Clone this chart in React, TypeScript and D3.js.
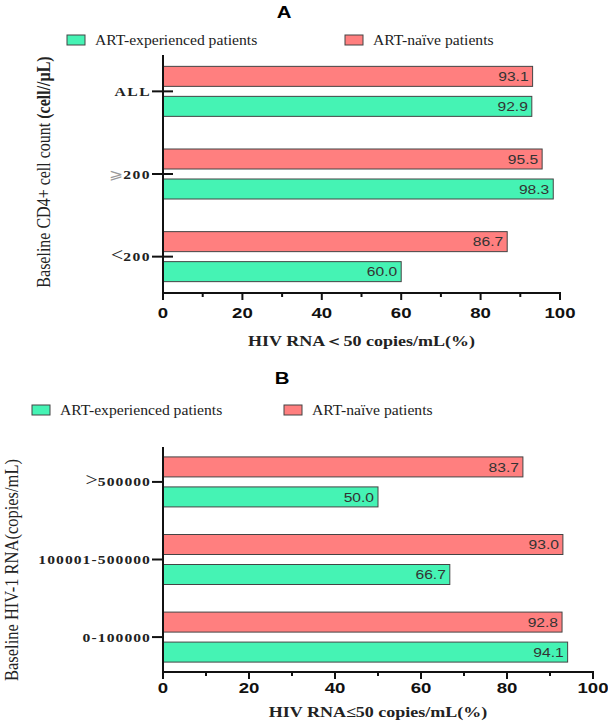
import React from 'react';
import * as d3 from 'd3';

// the exported figure is a bit wider than tall, so text gets a horizontal stretch
const SX = 1.2;

const seriesNames = ['ART-experienced patients', 'ART-naïve patients'];
const seriesColors = ['#45f3b4', '#ff7f7f'];

const cd4Groups = ['ALL', '⩾200', '<200'];
const cd4Naive = [93.1, 95.5, 86.7];
const cd4Experienced = [92.9, 98.3, 60.0];

const rnaGroups = ['>500000', '100001-500000', '0-100000'];
const rnaNaive = [83.7, 93.0, 92.8];
const rnaExperienced = [50.0, 66.7, 94.1];

const xTicks = [0, 20, 40, 60, 80, 100];
const xMinorTicks = [10, 30, 50, 70, 90];

const SERIF = '"Liberation Serif", "Times New Roman", serif';
const SANS = '"Liberation Sans", Arial, sans-serif';

type STextProps = React.SVGProps<SVGTextElement> & {
  x: number;
  y: number;
  rotate?: number;
  sx?: number;
};

const SText = ({ x, y, rotate, sx = SX, children, ...rest }: STextProps) => (
  <text
    transform={`translate(${x},${y}) scale(${sx},1)${rotate ? ` rotate(${rotate})` : ''}`}
    {...rest}
  >
    {children}
  </text>
);

// category label: a leading comparison sign is drawn larger and thinner
const CategoryLabel = ({ label }: { label: string }) => {
  const m = label.match(/^[<>⩾]/);
  if (!m) return <>{label}</>;
  const sign = m[0];
  return (
    <>
      <tspan
        fontWeight="normal"
        fontSize={sign === '⩾' ? 14 : 18}
        fill={sign === '⩾' ? '#999' : '#222'}
        letterSpacing={0}
      >
        {sign}
      </tspan>
      {label.slice(1)}
    </>
  );
};

type PanelProps = {
  title: string;
  groups: string[];
  naive: number[];
  experienced: number[];
  yTitle: React.ReactNode;
  xTitle: string;
  top: number;
  bottom: number;
  right: number;
  padding: number;
  titleX: number;
  titleY: number;
  legendY: number;
  legendX: [number, number];
  yTitleX: number;
  yTitleY: number;
  yTitleSize: number;
  crossTicks: boolean;
  labelSpacing: number;
  tickLabelDy: number;
  xTitleY: number;
};

const LEFT = 163;

const Panel = (p: PanelProps) => {
  const x = d3.scaleLinear().domain([0, 100]).range([LEFT, p.right]);
  const y = d3.scalePoint<string>().domain(p.groups).range([p.top, p.bottom]).padding(p.padding);
  const sub = d3.scaleBand<string>().domain(['naive', 'exp']).range([-25, 25]).paddingInner(1 / 3);

  const rows = p.groups.map((g, i) => ({ g, naive: p.naive[i], exp: p.experienced[i] }));

  return (
    <g>
      <SText
        x={p.titleX}
        y={p.titleY}
        textAnchor="middle"
        fontFamily={SANS}
        fontWeight="bold"
        fontSize={17}
      >
        {p.title}
      </SText>

      {/* legend */}
      {seriesNames.map((name, i) => (
        <g key={name}>
          <rect
            x={p.legendX[i]}
            y={p.legendY - 10}
            width={18}
            height={10}
            fill={seriesColors[i]}
            stroke="#444"
            strokeWidth={1}
          />
          <SText
            x={p.legendX[i] + 28}
            y={p.legendY}
            sx={1.08}
            fontFamily={SERIF}
            fontSize={14.5}
            fill="#222"
          >
            {name}
          </SText>
        </g>
      ))}

      {/* bars */}
      {rows.map((r) => {
        const cy = y(r.g)!;
        const bars = [
          { key: 'naive', v: r.naive, color: seriesColors[1] },
          { key: 'exp', v: r.exp, color: seriesColors[0] },
        ];
        return (
          <g key={r.g}>
            {bars.map((b) => {
              const by = cy + sub(b.key)!;
              return (
                <g key={b.key}>
                  <rect
                    x={x(0)}
                    y={by}
                    width={x(b.v) - x(0)}
                    height={sub.bandwidth()}
                    fill={b.color}
                    stroke="#444"
                    strokeWidth={1}
                  />
                  <SText
                    x={x(b.v) - 4}
                    y={by + sub.bandwidth() / 2}
                    dy="0.36em"
                    textAnchor="end"
                    fontFamily={SANS}
                    fontSize={13}
                    fill="#333"
                  >
                    {b.v.toFixed(1)}
                  </SText>
                </g>
              );
            })}
            <line
              x1={LEFT - 11}
              x2={p.crossTicks ? LEFT + 10 : LEFT}
              y1={cy}
              y2={cy}
              stroke="#111"
              strokeWidth={2}
            />
            <SText
              x={LEFT - 12}
              y={cy}
              dy="0.35em"
              textAnchor="end"
              fontFamily={SERIF}
              fontWeight="bold"
              fontSize={13}
              letterSpacing={p.labelSpacing}
              fill="#222"
            >
              <CategoryLabel label={r.g} />
            </SText>
          </g>
        );
      })}

      {/* axes */}
      <line x1={LEFT} x2={LEFT} y1={p.top} y2={p.bottom} stroke="#111" strokeWidth={2} />
      <line x1={LEFT - 1} x2={p.right + 1} y1={p.bottom} y2={p.bottom} stroke="#111" strokeWidth={2} />
      {xTicks.map((t) => (
        <g key={t}>
          <line x1={x(t)} x2={x(t)} y1={p.bottom} y2={p.bottom + 7} stroke="#111" strokeWidth={2} />
          <SText
            x={x(t)}
            y={p.bottom + p.tickLabelDy}
            textAnchor="middle"
            fontFamily={SANS}
            fontWeight="bold"
            fontSize={15.5}
            fill="#111"
          >
            {t}
          </SText>
        </g>
      ))}
      {xMinorTicks.map((t) => (
        <line key={t} x1={x(t)} x2={x(t)} y1={p.bottom} y2={p.bottom + 4} stroke="#111" strokeWidth={2} />
      ))}

      <SText
        x={(LEFT + p.right) / 2}
        y={p.xTitleY}
        textAnchor="middle"
        fontFamily={SERIF}
        fontWeight="bold"
        fontSize={15}
        fill="#222"
      >
        {p.xTitle}
      </SText>

      <SText
        x={p.yTitleX}
        y={p.yTitleY}
        rotate={-90}
        sx={1.15}
        textAnchor="middle"
        fontFamily={SERIF}
        fontSize={p.yTitleSize}
        fill="#222"
      >
        {p.yTitle}
      </SText>
    </g>
  );
};

export default function App() {
  return (
    <svg
      width={608}
      height={722}
      viewBox="0 0 608 722"
      style={{ position: 'absolute', left: 0, top: 0, background: '#fff' }}
    >
      <Panel
        title="A"
        groups={cd4Groups}
        naive={cd4Naive}
        experienced={cd4Experienced}
        yTitle={
          <>
            Baseline CD4+ cell count <tspan fontWeight="bold">(cell//μL)</tspan>
          </>
        }
        xTitle="HIV RNA＜50 copies/mL(%)"
        top={55}
        bottom={293}
        right={560}
        padding={0.44}
        titleX={284}
        titleY={18}
        legendY={45}
        legendX={[67, 345]}
        yTitleX={50}
        yTitleY={172}
        yTitleSize={16}
        crossTicks={true}
        labelSpacing={1.2}
        tickLabelDy={25}
        xTitleY={346}
      />
      <Panel
        title="B"
        groups={rnaGroups}
        naive={rnaNaive}
        experienced={rnaExperienced}
        yTitle="Baseline HIV-1 RNA(copies/mL)"
        xTitle="HIV RNA≤50 copies/mL(%)"
        top={447}
        bottom={672}
        right={593}
        padding={0.45}
        titleX={282}
        titleY={384}
        legendY={415}
        legendX={[32, 284]}
        yTitleX={18}
        yTitleY={570}
        yTitleSize={16.5}
        crossTicks={false}
        labelSpacing={0.9}
        tickLabelDy={21}
        xTitleY={717}
      />
    </svg>
  );
}
